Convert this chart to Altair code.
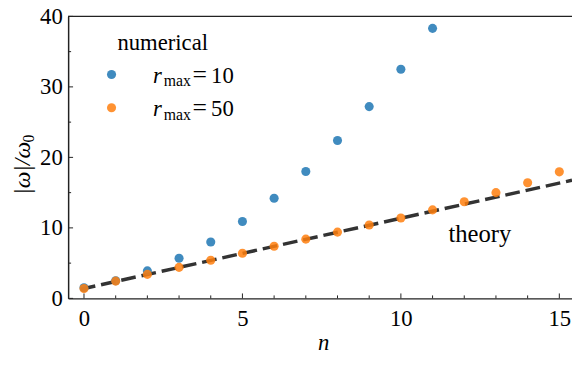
import altair as alt
import pandas as pd

# ---- data ----
n_r10 = list(range(12))
w_r10 = [1.5, 2.5, 3.9, 5.7, 8.0, 10.9, 14.2, 18.0, 22.4, 27.2, 32.5, 38.3]
n_r50 = list(range(16))
w_r50 = [1.4, 2.45, 3.4, 4.4, 5.4, 6.4, 7.4, 8.4, 9.4, 10.4, 11.4, 12.55, 13.7, 15.0, 16.4, 17.95]
theory_n = [-0.1, 15.4]
theory_w = [1.3, 16.75]
x_major = [0, 5, 10, 15]
x_minor = [1, 2, 3, 4, 6, 7, 8, 9, 11, 12, 13, 14]
y_major = [0, 10, 20, 30, 40]
y_minor = [5, 15, 25, 35]

TOP = 6
W, H = 511, 286
FONT = "Times New Roman"
FS = 23

xs = alt.Scale(domain=[-0.5, 15.4], nice=False, zero=False)
ys = alt.Scale(domain=[0, 40], nice=False, zero=False)

df10 = pd.DataFrame({"n": n_r10, "w": w_r10})
df50 = pd.DataFrame({"n": n_r50, "w": w_r50})
dth = pd.DataFrame({"n": theory_n, "w": theory_w})
one = pd.DataFrame({"a": [0]})

xaxis = alt.Axis(values=x_major, ticks=False, grid=False, labelFontSize=FS, labelFont=FONT,
                 labelColor="black", labelPadding=10, labelFlush=False, domainColor="#222",
                 domainWidth=1.5, title=None)
yaxis = alt.Axis(values=y_major, ticks=False, grid=False, labelFontSize=FS, labelFont=FONT,
                 labelColor="black", labelPadding=6, labelFlush=False, domainColor="#222",
                 domainWidth=1.5, title=None)

theory = alt.Chart(dth).mark_line(color="#333333", strokeWidth=3.5, strokeDash=[15, 6]).encode(
    x=alt.X("n:Q", scale=xs, axis=xaxis),
    y=alt.Y("w:Q", scale=ys, axis=yaxis),
)
pts10 = alt.Chart(df10).mark_circle(size=85, color="#1f77b4", opacity=0.85).encode(
    x=alt.X("n:Q", scale=xs), y=alt.Y("w:Q", scale=ys))
pts50 = alt.Chart(df50).mark_circle(size=85, color="#ff7f0e", opacity=0.85).encode(
    x=alt.X("n:Q", scale=xs), y=alt.Y("w:Q", scale=ys))

# inward ticks
xmaj = alt.Chart(pd.DataFrame({"t": x_major})).mark_rule(color="#222", strokeWidth=1).encode(
    x=alt.X("t:Q", scale=xs), y=alt.value(H), y2=alt.value(H - 5))
xmin = alt.Chart(pd.DataFrame({"t": x_minor})).mark_rule(color="#222", strokeWidth=1).encode(
    x=alt.X("t:Q", scale=xs), y=alt.value(H), y2=alt.value(H - 3))
ymaj = alt.Chart(pd.DataFrame({"t": y_major})).mark_rule(color="#222", strokeWidth=1).encode(
    y=alt.Y("t:Q", scale=ys), x=alt.value(0), x2=alt.value(5))
ymin = alt.Chart(pd.DataFrame({"t": y_minor})).mark_rule(color="#222", strokeWidth=1).encode(
    y=alt.Y("t:Q", scale=ys), x=alt.value(0), x2=alt.value(3))
topframe = alt.Chart(one).mark_rule(color="#222", strokeWidth=1.5).encode(
    x=alt.value(0), x2=alt.value(W), y=alt.value(0))


def txt(s, x, y, size=FS, italic=False, angle=0):
    kw = {"fontStyle": "italic"} if italic else {}
    if angle:
        kw["angle"] = angle
    return alt.Chart(one).mark_text(font=FONT, fontSize=size, color="black",
                                    align="left", baseline="alphabetic", **kw).encode(
        x=alt.value(x), y=alt.value(y), text=alt.value(s))


def dot(x, y, color):
    return alt.Chart(one).mark_circle(size=85, color=color, opacity=0.85).encode(
        x=alt.value(x), y=alt.value(y))


R2 = 33.7
legend = [
    txt("numerical", 50, 34.3),
    dot(44, 59, "#1f77b4"),
    txt("r", 86, 67.7, italic=True),
    txt("max", 97, 71, size=16),
    txt("=", 126, 67.7, size=26),
    txt("10", 145, 67.7),
    dot(44, 59 + R2, "#ff7f0e"),
    txt("r", 86, 67.7 + R2, italic=True),
    txt("max", 97, 71 + R2, size=16),
    txt("=", 126, 67.7 + R2, size=26),
    txt("50", 145, 67.7 + R2),
]

# axis titles
titles = [
    txt("n", W / 2 - 2, 338, italic=True),
    txt("|ω|/ω", -39, 181, size=24, italic=True, angle=270),
    txt("0", -35, 128, size=16, angle=270),
]

theory_lbl = alt.Chart(pd.DataFrame({"n": [11.5], "w": [8.0], "s": ["theory"]})).mark_text(
    font=FONT, fontSize=25, color="black", align="left", baseline="alphabetic").encode(
    x=alt.X("n:Q", scale=xs), y=alt.Y("w:Q", scale=ys), text="s:N")

chart = alt.layer(theory, xmaj, xmin, ymaj, ymin, topframe, pts10, pts50, theory_lbl,
                  *legend, *titles).properties(
    width=W, height=H,
    autosize=alt.AutoSizeParams(type="none"),
    padding={"left": 61, "top": TOP, "right": 0, "bottom": 60},
).configure(font=FONT).configure_view(stroke=None)

chart.save("out.html", embed_options={"renderer": "svg", "actions": False})
